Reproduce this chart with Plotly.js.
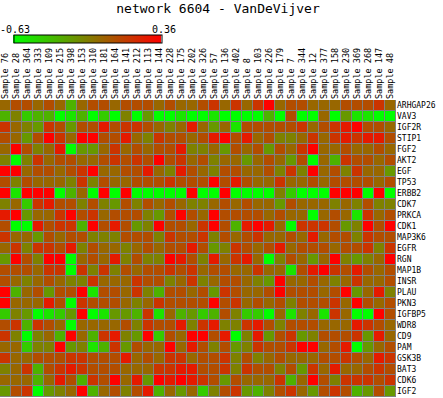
<!DOCTYPE html>
<html>
<head>
<meta charset="utf-8">
<script src="https://cdn.plot.ly/plotly-3.0.1.min.js"></script>
<style>html,body{margin:0;padding:0;background:#fff;}#chart{width:443px;height:398px;}</style>
</head>
<body>
<div id="chart"></div>
<script>
const chartTitle = 'network 6604 - VanDeVijver';
const zMin = -0.63;
const zMax = 0.36;

const sampleIds = [76, 28, 364, 333, 109, 215, 398, 153, 310, 181, 164, 141, 212, 113, 144, 228, 175, 202,
  326, 57, 136, 402, 8, 103, 226, 179, 7, 344, 12, 377, 158, 230, 369, 268, 147, 48];
const sampleLabels = sampleIds.map(s => 'Sample ' + s);

const genes = ['ARHGAP26', 'VAV3', 'IGF2R', 'STIP1', 'FGF2', 'AKT2', 'EGF', 'TP53', 'ERBB2', 'CDK7', 'PRKCA',
  'CDK1', 'MAP3K6', 'EGFR', 'RGN', 'MAP1B', 'INSR', 'PLAU', 'PKN3', 'IGFBP5', 'WDR8', 'CD9', 'PAM', 'GSK3B',
  'BAT3', 'CDK6', 'IGF2'];

const expression = [
  [-0.04,0.06,0.06,-0.04,0.06,-0.04,-0.33,-0.04,0.06,0.06,-0.04,0.06, 0.06,0.06,-0.04,0.06,-0.04,-0.04,0.06,0.16,-0.04,0.16,-0.04,0.16, 0.36,-0.04,0.06,0.06,-0.04,-0.04,-0.04,0.06,0.06,0.06,0.16,-0.04],
  [-0.33,-0.14,-0.43,-0.33,-0.33,-0.63,-0.53,-0.33,-0.63,-0.43,-0.63,-0.14, -0.63,-0.23,-0.63,-0.63,-0.53,-0.63,-0.63,-0.53,-0.63,-0.63,-0.63,-0.63, -0.33,-0.63,0.06,-0.63,-0.63,-0.04,-0.63,-0.23,-0.53,-0.53,-0.63,-0.63],
  [0.16,-0.04,-0.14,-0.23,0.16,0.06,-0.23,0.06,0.06,0.26,0.06,0.16, 0.16,0.06,-0.04,-0.14,-0.04,0.26,-0.04,-0.23,-0.04,-0.53,0.06,0.06, 0.06,0.06,0.06,0.16,-0.04,0.06,0.16,0.26,0.36,0.06,0.06,-0.04],
  [0.06,-0.04,-0.23,0.06,0.36,0.16,-0.04,0.36,0.36,0.06,0.06,0.26, -0.04,-0.14,0.16,0.06,0.06,-0.04,0.06,0.26,0.36,0.06,0.26,-0.04, 0.06,-0.14,-0.14,-0.04,0.16,-0.04,0.16,0.26,0.16,0.26,0.26,0.06],
  [-0.04,0.36,0.06,-0.14,-0.04,0.26,-0.63,-0.23,-0.23,-0.04,0.16,-0.04, 0.06,-0.04,0.06,0.06,0.26,-0.14,-0.14,-0.04,-0.23,0.06,-0.04,0.06, -0.23,0.06,-0.04,0.16,0.36,-0.04,-0.04,0.06,-0.04,-0.04,0.06,-0.04],
  [-0.14,-0.63,-0.14,0.16,-0.04,0.06,0.06,-0.04,-0.04,0.06,0.16,0.06, 0.16,0.06,0.36,0.06,0.16,-0.04,0.06,-0.14,-0.04,-0.04,-0.23,-0.04, 0.06,-0.04,-0.23,0.06,-0.63,-0.04,-0.33,0.16,0.06,0.06,-0.04,0.06],
  [0.36,0.36,-0.04,0.06,0.06,-0.04,0.06,0.16,0.36,-0.04,-0.04,0.06, 0.06,0.26,-0.04,-0.14,0.26,0.06,-0.04,-0.14,0.06,0.06,-0.04,-0.04, 0.06,-0.14,0.16,-0.14,0.36,-0.04,0.06,-0.14,0.16,-0.04,-0.04,-0.23],
  [0.06,-0.14,0.06,-0.04,-0.04,-0.04,-0.14,0.16,-0.14,0.06,-0.04,-0.04, 0.06,0.06,0.06,0.16,0.06,0.06,0.06,0.36,0.06,0.26,0.06,-0.04, -0.04,0.16,-0.04,-0.04,0.06,-0.04,0.06,0.06,0.06,0.06,-0.04,0.06],
  [0.36,-0.53,0.36,0.36,0.36,-0.63,-0.33,-0.04,-0.63,0.36,-0.63,0.36, -0.63,-0.63,-0.63,-0.63,-0.63,0.36,-0.63,-0.63,0.36,-0.63,-0.63,-0.63, -0.63,-0.14,-0.43,-0.63,-0.63,-0.63,0.36,0.36,0.36,-0.63,0.36,-0.63],
  [-0.14,-0.04,-0.43,0.16,0.26,0.06,0.06,-0.14,0.06,-0.14,-0.23,0.06, -0.14,0.06,-0.04,0.06,-0.04,-0.14,-0.14,-0.04,0.06,-0.04,0.06,-0.04, -0.04,-0.23,0.06,-0.04,-0.04,-0.04,-0.14,-0.04,-0.14,0.06,-0.14,-0.14],
  [0.26,0.36,-0.23,-0.04,-0.04,0.16,0.36,0.06,0.16,-0.04,0.06,0.06, 0.06,-0.14,-0.23,0.06,0.36,0.06,-0.04,0.36,0.06,0.06,0.06,0.06, -0.04,0.06,-0.04,-0.04,-0.63,-0.04,0.06,-0.04,-0.53,0.16,-0.04,0.06],
  [0.06,-0.63,-0.63,0.26,0.06,0.16,0.16,-0.33,0.36,0.06,0.26,0.06, -0.23,-0.14,0.36,0.06,0.06,-0.04,0.16,0.36,0.06,-0.33,0.26,0.36, 0.26,-0.04,-0.63,0.16,0.16,0.16,0.06,-0.23,-0.14,0.36,0.06,0.36],
  [0.16,-0.04,-0.04,-0.23,0.06,-0.04,0.06,0.06,-0.14,-0.14,-0.14,0.06, 0.06,0.06,-0.14,0.16,0.06,0.06,0.16,-0.14,0.06,-0.04,0.06,0.16, -0.04,-0.04,0.06,-0.04,0.26,-0.04,0.06,0.06,-0.14,0.16,0.06,0.06],
  [-0.04,0.16,-0.14,0.16,0.16,0.06,0.26,-0.14,0.06,-0.04,-0.04,-0.14, -0.04,0.06,-0.04,0.06,0.06,0.26,0.06,-0.23,-0.14,0.16,0.06,-0.04, 0.06,0.26,-0.04,0.06,0.06,0.06,-0.04,0.06,0.06,0.16,-0.14,0.16],
  [-0.23,0.36,0.06,-0.14,0.36,0.36,-0.63,-0.04,0.06,-0.04,0.26,-0.14, 0.06,-0.14,-0.14,0.36,0.26,0.06,-0.14,0.26,-0.04,0.16,0.26,-0.04, -0.63,-0.14,0.06,-0.04,-0.23,-0.04,0.36,-0.14,-0.23,-0.14,-0.04,0.36],
  [0.06,0.06,0.06,-0.04,0.16,0.16,-0.63,0.16,-0.14,0.16,-0.14,0.06, -0.04,0.06,0.06,0.16,0.06,0.16,-0.04,0.06,0.06,-0.04,-0.04,0.16, -0.04,-0.04,-0.53,0.06,0.26,0.36,0.16,0.06,0.26,0.06,-0.04,0.06],
  [0.06,-0.04,-0.14,-0.04,0.06,-0.04,-0.14,-0.14,0.16,-0.04,-0.04,-0.04, 0.16,0.06,0.06,-0.14,-0.04,0.16,-0.14,-0.04,0.06,0.06,-0.04,-0.14, -0.23,0.36,-0.04,-0.04,0.06,-0.04,-0.14,-0.04,0.16,-0.04,-0.04,0.06],
  [0.36,-0.33,-0.04,0.06,-0.23,0.06,0.06,0.36,-0.53,0.06,0.06,-0.04, 0.16,-0.14,-0.33,0.06,0.06,-0.04,0.06,-0.23,0.16,0.06,-0.04,-0.04, 0.06,0.36,0.06,0.06,0.06,-0.04,0.06,0.36,-0.23,-0.04,0.26,-0.14],
  [0.36,-0.04,-0.04,-0.04,0.26,0.06,-0.63,0.16,0.06,0.06,0.06,-0.04, -0.14,-0.04,0.16,0.06,0.06,0.06,0.06,0.36,0.06,0.16,-0.04,0.06, -0.04,0.06,-0.14,0.06,0.06,0.06,0.16,-0.04,0.36,0.06,-0.04,0.06],
  [-0.43,-0.14,-0.23,-0.63,-0.53,-0.43,-0.23,0.36,-0.63,-0.53,-0.23,-0.23, -0.33,0.16,-0.53,-0.04,-0.33,-0.23,-0.43,-0.33,0.06,-0.14,-0.43,-0.43, -0.63,-0.04,-0.53,-0.14,-0.04,-0.53,0.16,-0.04,-0.63,-0.63,0.36,0.06],
  [0.06,0.16,-0.33,0.16,0.06,-0.04,-0.63,-0.04,-0.04,-0.04,-0.04,0.06, -0.14,0.16,0.06,0.06,0.26,-0.14,0.16,0.26,-0.14,-0.14,0.16,0.26, 0.06,-0.14,0.06,0.06,0.06,-0.04,-0.04,-0.04,0.26,0.16,0.06,-0.04],
  [0.16,-0.14,-0.63,-0.14,-0.04,-0.33,0.36,-0.04,-0.33,0.16,0.26,-0.14, -0.23,0.36,-0.43,0.06,-0.04,0.36,0.36,0.06,0.26,-0.63,-0.14,0.26, -0.23,0.06,0.16,-0.23,-0.14,0.06,0.06,0.06,0.16,-0.23,0.26,-0.04],
  [-0.04,-0.04,-0.43,-0.14,-0.14,0.36,-0.23,-0.14,-0.53,-0.33,0.16,-0.23, 0.06,-0.04,-0.04,0.36,-0.04,0.26,0.06,-0.14,0.06,-0.23,-0.14,0.16, 0.06,0.06,0.16,0.36,0.36,-0.04,0.06,0.26,-0.63,-0.23,-0.04,0.06],
  [0.16,-0.04,-0.04,0.06,0.06,0.06,0.16,0.16,0.06,0.06,0.06,0.26, -0.04,0.06,-0.04,0.16,0.16,-0.04,0.06,0.06,0.16,-0.14,0.06,-0.14, -0.04,0.06,-0.04,-0.04,-0.04,0.06,0.06,0.16,0.06,-0.04,0.26,0.16],
  [-0.14,-0.04,0.16,-0.33,0.06,0.16,0.26,0.16,0.06,0.06,0.06,-0.04, -0.04,-0.04,0.16,0.16,0.26,0.26,0.06,0.06,0.16,-0.14,0.16,0.06, 0.06,-0.14,0.06,-0.23,0.16,-0.04,0.26,-0.04,-0.04,0.06,0.16,0.06],
  [-0.04,-0.04,-0.04,-0.33,-0.04,0.26,0.06,-0.33,0.16,0.06,0.36,-0.04, 0.26,-0.23,0.36,0.26,0.36,0.26,0.16,0.06,-0.23,0.06,-0.04,-0.04, -0.04,0.16,-0.33,-0.04,0.36,0.06,-0.14,0.16,0.16,0.16,0.06,0.16],
  [-0.23,0.06,0.16,-0.63,-0.23,-0.14,-0.04,0.36,-0.33,-0.04,0.06,-0.14, 0.06,0.26,-0.33,-0.04,-0.23,-0.04,-0.43,-0.14,0.06,0.16,-0.23,-0.33, -0.14,0.06,0.16,-0.04,-0.23,0.06,0.16,0.06,-0.33,-0.23,0.06,-0.23]
];

const W = 443, H = 398;
const plotL = 0, plotR = 396, plotT = 100, plotB = 397;
const plotW = plotR - plotL, plotH = plotB - plotT;
const mono = 'DejaVu Sans Mono, monospace';

// colour bar box in pixels (left, right, top, bottom)
const cbL = 14, cbR = 162, cbT = 35, cbB = 44;

const trace = {
  type: 'heatmap',
  x: sampleLabels,
  y: genes,
  z: expression,
  zmin: zMin,
  zmax: zMax,
  colorscale: [[0, 'rgb(0,255,0)'], [1, 'rgb(255,0,0)']],
  xgap: 1,
  ygap: 1,
  hoverinfo: 'skip',
  colorbar: {
    orientation: 'h',
    xref: 'container', yref: 'container',
    x: cbL / W, xanchor: 'left',
    y: 1 - cbB / H, yanchor: 'bottom',
    len: cbR - cbL, lenmode: 'pixels',
    thickness: cbB - cbT - 1, thicknessmode: 'pixels',
    xpad: 0, ypad: 0,
    outlinewidth: 1, outlinecolor: '#000',
    ticks: '', showticklabels: false
  }
};

const layout = {
  width: W, height: H,
  margin: {l: plotL, r: W - plotR, t: plotT, b: H - plotB, pad: 0, autoexpand: false},
  paper_bgcolor: '#fff',
  plot_bgcolor: '#808080',
  title: {
    text: chartTitle,
    font: {family: mono, size: 13, color: '#000'},
    xref: 'container', x: 218 / W, xanchor: 'center',
    yref: 'container', y: 1 - 3.5 / H, yanchor: 'top'
  },
  xaxis: {
    side: 'top', tickangle: -90, type: 'category',
    tickfont: {family: mono, size: 8.5, color: '#000'},
    ticks: '', showgrid: false, zeroline: false, showline: false, fixedrange: true
  },
  yaxis: {
    side: 'right', autorange: 'reversed', type: 'category',
    tickfont: {family: mono, size: 8, color: '#000'},
    ticks: '', showgrid: false, zeroline: false, showline: false, fixedrange: true
  },
  annotations: [
    {text: String(zMin), xref: 'paper', yref: 'paper', x: 14.5 / plotW, y: (plotB - 30) / plotH,
     xanchor: 'center', yanchor: 'middle', showarrow: false, font: {family: mono, size: 10, color: '#000'}},
    {text: String(zMax), xref: 'paper', yref: 'paper', x: 164 / plotW, y: (plotB - 30) / plotH,
     xanchor: 'center', yanchor: 'middle', showarrow: false, font: {family: mono, size: 10, color: '#000'}}
  ],
  showlegend: false
};

Plotly.newPlot('chart', [trace], layout, {displayModeBar: false, staticPlot: true});
</script>
</body>
</html>
